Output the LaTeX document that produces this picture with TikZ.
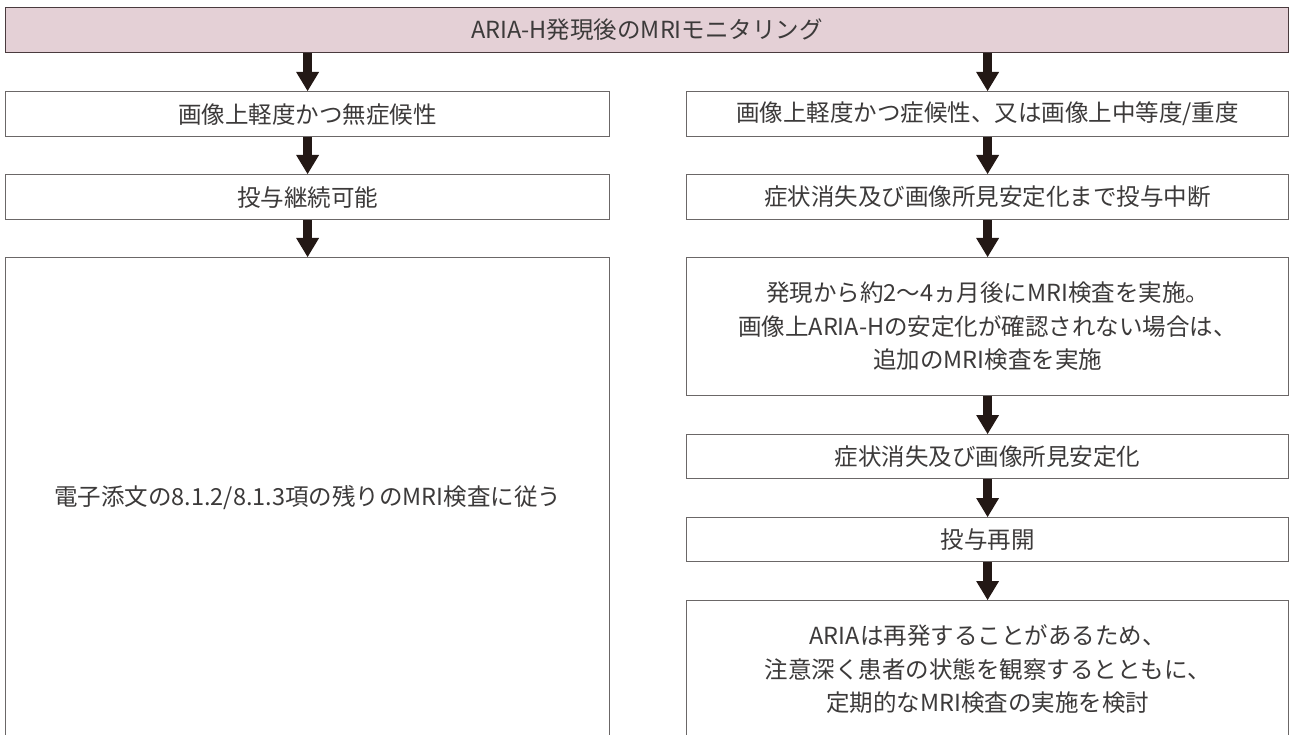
\documentclass[tikz,border=0pt]{standalone}
\usepackage{fontspec}
\setmainfont{Noto Sans CJK JP}
\usetikzlibrary{arrows.meta}
\definecolor{hdrfill}{HTML}{E4D0D6}
\definecolor{hdrline}{HTML}{4A3B3E}
\definecolor{boxline}{HTML}{6B6767}
\definecolor{txt}{HTML}{3C3A3A}
\definecolor{arr}{HTML}{231815}
\tikzset{
  stepbox/.style={draw=boxline, line width=1.2pt, fill=white, text=txt, align=center,
    inner sep=0pt, anchor=north west, font=\fontsize{23.5}{33.5}\selectfont},
  hdrbox/.style={stepbox, draw=hdrline, fill=hdrfill},
  flow/.style={draw=arr, line width=9pt, -{Triangle[width=23pt,length=19pt,line width=0pt]}}
}
\begin{document}
\begin{tikzpicture}[x=1pt,y=-1pt]
\useasboundingbox (0,0) rectangle (1290,735);
\clip (0,0) rectangle (1290,735);
\node[hdrbox, minimum width=1283pt, minimum height=45pt] (hdr) at (5,7) {ARIA-H発現後のMRIモニタリング};
\node[stepbox, minimum width=604pt, minimum height=45pt] (l1) at (5,91) {画像上軽度かつ無症候性};
\node[stepbox, minimum width=604pt, minimum height=45pt] (l2) at (5,174) {投与継続可能};
\node[stepbox, minimum width=604pt, minimum height=480pt] (l3) at (5,257) {電子添文の8.1.2/8.1.3項の残りのMRI検査に従う};
\node[stepbox, minimum width=602pt, minimum height=45pt] (r1) at (686,91) {画像上軽度かつ症候性、又は画像上中等度/重度};
\node[stepbox, minimum width=602pt, minimum height=45pt] (r2) at (686,174) {症状消失及び画像所見安定化まで投与中断};
\node[stepbox, minimum width=602pt, minimum height=138pt] (r3) at (686,257) {発現から約2〜4ヵ月後にMRI検査を実施。\\画像上ARIA-Hの安定化が確認されない場合は、\\追加のMRI検査を実施};
\node[stepbox, minimum width=602pt, minimum height=44pt] (r4) at (686,434) {症状消失及び画像所見安定化};
\node[stepbox, minimum width=602pt, minimum height=44pt] (r5) at (686,517) {投与再開};
\node[stepbox, minimum width=602pt, minimum height=137pt] (r6) at (686,600) {ARIAは再発することがあるため、\\注意深く患者の状態を観察するとともに、\\定期的なMRI検査の実施を検討};
\draw[flow] (hdr.south -| l1.north) -- (l1.north);
\draw[flow] (l1) -- (l2);
\draw[flow] (l2) -- (l3.north);
\draw[flow] (hdr.south -| r1.north) -- (r1.north);
\draw[flow] (r1) -- (r2);
\draw[flow] (r2) -- (r3);
\draw[flow] (r3) -- (r4);
\draw[flow] (r4) -- (r5);
\draw[flow] (r5) -- (r6.north);
\end{tikzpicture}
\end{document}
